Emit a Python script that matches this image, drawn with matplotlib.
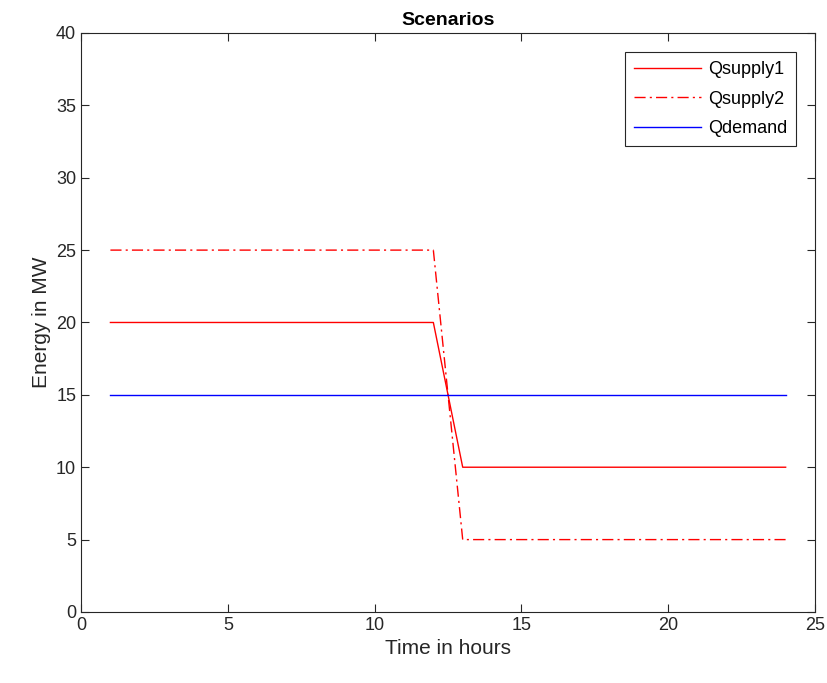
import numpy as np
import matplotlib.pyplot as plt

plt.rcParams['font.family'] = ['Liberation Sans', 'DejaVu Sans']

hours = np.arange(1, 25)
q_supply1 = [20] * 12 + [10] * 12
q_supply2 = [25] * 12 + [5] * 12
q_demand = [15] * 24

fig = plt.figure(figsize=(8.27, 6.83), dpi=100)
ax = fig.add_axes([0.098, 0.104, 0.8875, 0.8477])

ax.plot(hours, q_supply1, color='#ff0000', lw=1.0, label='Qsupply1')
ax.plot(hours, q_supply2, color='#ff0000', lw=1.0, ls=(0, (8, 3, 1.5, 3)), label='Qsupply2')
ax.plot(hours, q_demand, color='#0000ff', lw=1.0, label='Qdemand')

ax.set_xlim(0, 25)
ax.set_ylim(0, 40)
ax.set_xticks(range(0, 26, 5))
ax.set_yticks(range(0, 41, 5))
ax.tick_params(direction='in', top=True, right=True, labelsize=13, colors='#262626', length=6, width=0.8)
for s in ax.spines.values():
    s.set_color('#262626')
    s.set_linewidth(0.8)

ax.set_xlabel('Time in hours', fontsize=15, color='#262626')
ax.set_ylabel('Energy in MW', fontsize=15, color='#262626')
ax.set_title('Scenarios', fontsize=14, fontweight='bold', pad=6)

leg = ax.legend(loc='upper right', fontsize=13, fancybox=False, framealpha=1,
                edgecolor='#262626', handlelength=3.7, borderaxespad=1.05,
                labelspacing=0.7, handletextpad=0.4, borderpad=0.5)
leg.get_frame().set_linewidth(0.8)

fig.savefig('out.png', dpi=100)
